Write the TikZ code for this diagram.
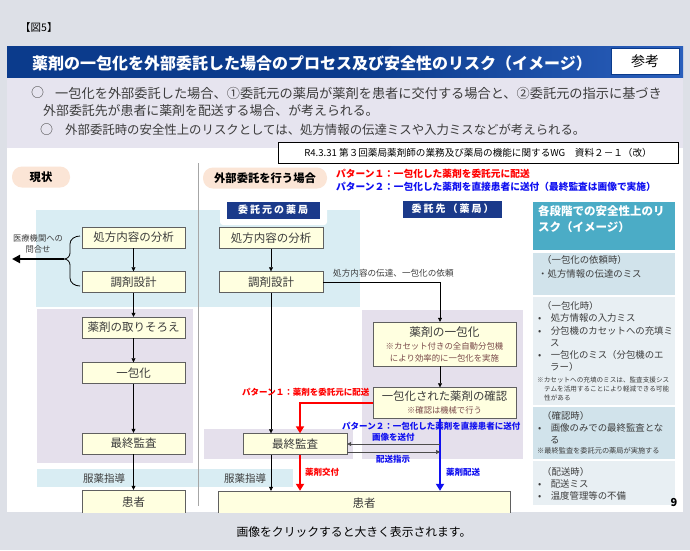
\documentclass[tikz,border=0pt]{standalone}
\usepackage{fontspec}
\setmainfont{Noto Sans CJK JP}
\usetikzlibrary{arrows.meta}
\definecolor{pagegray}{HTML}{DDE0E7}
\definecolor{navy}{HTML}{0B3B8C}
\definecolor{navylight}{HTML}{2A5FBC}
\definecolor{summarybg}{HTML}{E6E4EF}
\definecolor{zoneblue}{HTML}{D9EDF3}
\definecolor{zonepurple}{HTML}{E5E0EC}
\definecolor{boxyellow}{HTML}{FFFFE0}
\definecolor{pillpeach}{HTML}{FBE5D6}
\definecolor{labelnavy}{HTML}{1B3A8A}
\definecolor{riskteal}{HTML}{4BACC6}
\definecolor{riskdark}{HTML}{D1E3EB}
\definecolor{risklight}{HTML}{E8EFF3}
\definecolor{textgray}{HTML}{3C3C3C}
\definecolor{notered}{HTML}{7A4A4A}
\definecolor{pat1}{HTML}{FF0000}
\definecolor{pat2}{HTML}{1010F0}
\newcommand{\fsz}[1]{\fontsize{#1}{#1}\selectfont}
\begin{document}
\begin{tikzpicture}[x=1pt,y=-1pt,
  proc/.style={draw=gray!75!black,fill=boxyellow,minimum width=103pt,minimum height=21pt,inner sep=0pt,font=\fsz{11.5},text=textgray},
  pill/.style={fill=pillpeach,rounded corners=10pt,minimum height=21pt,inner sep=0pt,font=\fsz{11.3}\bfseries},
  tag/.style={fill=labelnavy,text=white,minimum height=17pt,inner sep=0pt,font=\fsz{10}\bfseries\addfontfeature{LetterSpace=20}},
  lab/.style={anchor=west,inner sep=0pt},
  flow/.style={-{Triangle[length=4pt,width=4pt]},line width=0.6pt},
  redpath/.style={-{Triangle[length=7pt,width=8pt]},line width=2.6pt,draw=pat1},
  bluepath/.style={redpath,draw=pat2},
  risk/.style={lab,font=\fsz{9.4},text=textgray},
  risknote/.style={lab,font=\fsz{6.6},text=textgray}]
\useasboundingbox (0,0) rectangle (690,550);
\fill[pagegray] (0,0) rectangle (690,550);

% title bar
\fill[navy] (7,46) rectangle (683,78);
\shade[left color=navy,right color=navylight] (392,46) -- (683,46) -- (683,78) -- (356,78) -- cycle;
\node[lab,text=white,font=\fsz{16}\bfseries] (title) at (32,63) {薬剤の一包化を外部委託した場合のプロセス及び安全性のリスク（イメージ）};
\node[draw=navy,fill=white,minimum width=68pt,minimum height=26pt,inner sep=0pt,font=\fsz{14}] (sanko) at (645,61) {参考};
\node[lab,font=\fsz{10.5}] (fig) at (20,28) {【図5】};

% summary
\fill[summarybg] (7,78) rectangle (683,148);
\node[lab,font=\fsz{13},text=textgray] (c1) at (31,93) {○};
\node[lab,font=\fsz{13.2},text=textgray] (s1) at (55,93) {一包化を外部委託した場合、①委託元の薬局が薬剤を患者に交付する場合と、②委託元の指示に基づき};
\node[lab,font=\fsz{12.9},text=textgray] (s2) at (43,111) {外部委託先が患者に薬剤を配送する場合、が考えられる。};
\node[lab,font=\fsz{13},text=textgray] (c2) at (40,130) {○};
\node[lab,font=\fsz{12.4},text=textgray] (s3) at (65,130) {外部委託時の安全性上のリスクとしては、処方情報の伝達ミスや入力ミスなどが考えられる。};

\fill[white] (7,148) rectangle (683,512);

\begin{scope}
\clip (7,148) rectangle (683,512);
% zones
\fill[zoneblue] (36,210) rectangle (360,307);
\fill[zonepurple] (37,309) rectangle (193,463);
\fill[zonepurple] (204,429) rectangle (353,459);
\fill[zonepurple] (362,310) rectangle (523,459);
\fill[zoneblue] (37,469) rectangle (293,487);
\fill[white,rounded corners=3pt] (220,199) rectangle (327,225);
\draw[gray!70,line width=0.8pt] (198,163) -- (198,506);

\node[pill,minimum width=58pt] (now) at (41,177) {現状};
\node[pill,minimum width=124pt] (outs) at (265,178) {外部委託を行う場合};
\node[lab,text=pat1,font=\fsz{9.7}\bfseries] (p1) at (336,174) {パターン１：一包化した薬剤を委託元に配送};
\node[lab,text=pat2,font=\fsz{9.7}\bfseries] (p2) at (336,187) {パターン２：一包化した薬剤を直接患者に送付（最終監査は画像で実施）};
\node[tag,minimum width=93pt] (home) at (273,210) {委託元の薬局};
\node[tag,minimum width=99pt] (dest) at (452.5,209) {委託先（薬局）};

% current
\node[proc] (ana0) at (133.5,237.5) {処方内容の分析};
\node[proc] (dsg0) at (133.5,282) {調剤設計};
\node[proc] (pick0) at (133.5,327.5) {薬剤の取りそろえ};
\node[proc] (pack0) at (133.5,373) {一包化};
\node[proc] (fin0) at (133.5,443.5) {最終監査};
\node[proc,minimum height=24pt] (pat0) at (133.5,502) {患者};
\draw[flow] (ana0) -- (dsg0);
\draw[flow] (dsg0) -- (pick0);
\draw[flow] (pick0) -- (pack0);
\draw[flow] (pack0) -- (fin0);
\draw[flow] (fin0) -- (pat0);
\node[lab,font=\fsz{10.5},text=textgray] (guide0) at (83,478) {服薬指導};
\node[font=\fontsize{8.3}{10.5}\selectfont,align=center,inner sep=0pt,text=textgray] (inq) at (38,244) {医療機関への\\問合せ};
\draw[line width=0.8pt] (80,236) to[out=180,in=90] (70,244) -- (70,253) to[out=-90,in=0] (64,259) to[out=0,in=90] (70,265) -- (70,278) to[out=-90,in=180] (80,286);
\coordinate (nub) at (64,259);
\coordinate (back) at (12,259);
\draw[-{Triangle[length=8pt,width=8pt]},line width=2pt] (nub) -- (back);

% outsourced
\coordinate (col1) at (300,0);
\coordinate (col2) at (440,0);
\coordinate (img) at (0,444);
\coordinate (ship) at (0,452);
\node[proc,minimum width=104pt] (ana1) at (271,238) {処方内容の分析};
\node[proc,minimum width=104pt] (dsg1) at (271,282) {調剤設計};
\node[proc,minimum width=104pt] (fin1) at (295,444) {最終監査};
\node[proc,minimum width=292pt,minimum height=24pt] (pat1) at (364,503) {患者};
\node[proc,minimum width=143pt,minimum height=44pt,align=center,font=\fontsize{8.4}{12}\selectfont,text=notered] (pack1) at (444.5,344) {{\fsz{11.7}\color{textgray}薬剤の一包化}\\[1pt]※カセット付きの全自動分包機\\により効率的に一包化を実施};
\node[proc,minimum width=143pt,minimum height=31pt,align=center,font=\fontsize{8.3}{13}\selectfont,text=notered] (chk1) at (444.5,403) {{\fsz{11.4}\color{textgray}一包化された薬剤の確認}\\※確認は機械で行う};
\node[lab,font=\fsz{10.5},text=textgray] (guide1) at (224,478) {服薬指導};
\draw[flow] (ana1) -- (dsg1);
\draw[flow] (dsg1) -- (dsg1.south |- fin1.north);
\draw[flow] (fin1.south -| dsg1) -- (pat1.north -| dsg1);
\draw[flow] (dsg1.east) -| (col2 |- pack1.north);
\node[lab,font=\fsz{8.6},text=textgray] (req) at (333,273) {処方内容の伝達、一包化の依頼};
\draw[flow] (col2 |- pack1.south) -- (col2 |- chk1.north);
\draw[redpath] (chk1.west) -| (col1 |- fin1.north);
\draw[redpath] (col1 |- fin1.south) -- (col1 |- pat1.north);
\draw[bluepath] (col2 |- chk1.south) -- (col2 |- pat1.north);
\draw[flow,draw=black!70] (col2 |- img) -- (fin1.east |- img);
\draw[flow,draw=black!70] (fin1.east |- ship) -- (col2 |- ship);
\node[lab,text=pat1,font=\fsz{8.5}\bfseries] (r1) at (242,392) {パターン１：薬剤を委託元に配送};
\node[lab,text=pat2,font=\fsz{8.5}\bfseries] (b1) at (342,426) {パターン２：一包化した薬剤を直接患者に送付};
\node[lab,text=pat2,font=\fsz{8.5}\bfseries] (b2) at (372,437) {画像を送付};
\node[lab,text=pat2,font=\fsz{8.5}\bfseries] (b3) at (376,459) {配送指示};
\node[lab,text=pat1,font=\fsz{8.5}\bfseries] (r2) at (305,472) {薬剤交付};
\node[lab,text=pat2,font=\fsz{8.5}\bfseries] (b4) at (446,472) {薬剤配送};

% risks
\fill[riskteal] (533,202) rectangle (675,250);
\node[anchor=north west,inner sep=0pt,align=left,text=white,font=\fontsize{11.5}{16}\selectfont\bfseries] (rhead) at (538,205) {各段階での安全性上のリ\\スク（イメージ）};
\fill[riskdark] (533,253) rectangle (675,295);
\fill[risklight] (533,297) rectangle (675,405);
\fill[riskdark] (533,407) rectangle (675,459);
\fill[risklight] (533,461) rectangle (675,505);
\node[risk] (k1) at (542,260) {（一包化の依頼時）};
\node[risk] (k2) at (538,274) {・処方情報の伝達のミス};
\node[risk] (k3) at (542,306) {（一包化時）};
\node[risk] (k4) at (538,318) {•　処方情報の入力ミス};
\node[risk] (k5) at (538,331) {•　分包機のカセットへの充填ミ};
\node[risk] (k6) at (550,343) {ス};
\node[risk] (k7) at (538,355) {•　一包化のミス（分包機のエ};
\node[risk] (k8) at (550,367) {ラー）};
\node[risknote] (k9) at (537,380) {※カセットへの充填のミスは、監査支援シス};
\node[risknote] (k10) at (544,389) {テムを活用することにより軽減できる可能};
\node[risknote] (k11) at (544,398) {性がある};
\node[risk] (k12) at (542,416) {（確認時）};
\node[risk] (k13) at (538,428) {•　画像のみでの最終監査とな};
\node[risk] (k14) at (550,440) {る};
\node[risknote,font=\fsz{7.2}] (k15) at (537,451) {※最終監査を委託元の薬局が実施する};
\node[risk] (k16) at (542,472) {（配送時）};
\node[risk] (k17) at (538,484) {•　配送ミス};
\node[risk] (k18) at (538,496) {•　温度管理等の不備};
\node[font=\fsz{11}\bfseries,inner sep=0pt] (pg) at (674,502) {9};
\end{scope}

\node[draw=black,line width=0.8pt,fill=white,minimum width=400pt,minimum height=21pt,inner sep=0pt,font=\fsz{9.6}] (src) at (478,152.5) {R4.3.31 第３回薬局薬剤師の業務及び薬局の機能に関するWG　資料２－１（改）};
\node[font=\fsz{11.8},inner sep=0pt] (cap) at (354,532) {画像をクリックすると大きく表示されます。};
\end{tikzpicture}
\end{document}
